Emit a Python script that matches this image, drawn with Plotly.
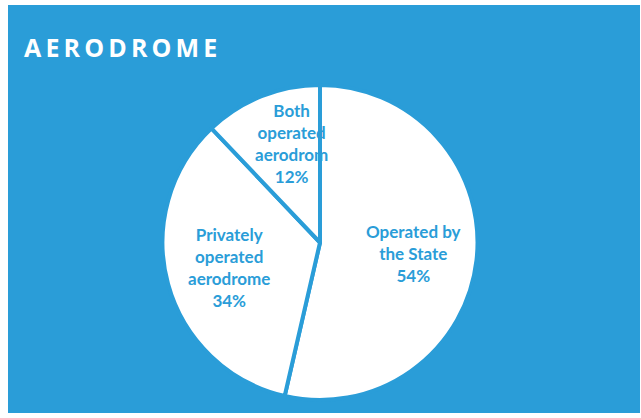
import math
import plotly.graph_objects as go

labels = ["Operated by the State", "Privately operated aerodrome", "Both operated aerodrom"]
label_lines = ["Operated by<br>the State", "Privately<br>operated<br>aerodrome", "Both<br>operated<br>aerodrom"]
values = [53.6, 34.3, 12.1]
label_radius = [0.6, 0.6, 0.68]
label_xshift = [0, 0, 11]

BLUE = "#2A9DD8"
W, H = 641, 418

# pie geometry (pixels)
cx, cy, R = 320, 242.5, 157.5

fig = go.Figure()
fig.add_trace(go.Pie(
    labels=labels, values=values, sort=False, direction="clockwise", rotation=0,
    marker=dict(colors=["white"] * 3, line=dict(color=BLUE, width=4)),
    textinfo="none", hoverinfo="label+percent", showlegend=False,
    domain=dict(x=[(cx - R) / W, (cx + R) / W], y=[(H - cy - R) / H, (H - cy + R) / H]),
))

total = sum(values)
cum = 0
annotations = []
for lab, v, fr, xs in zip(label_lines, values, label_radius, label_xshift):
    mid = (cum + v / 2) / total * 2 * math.pi
    cum += v
    px = cx + math.sin(mid) * R * fr
    py = cy - math.cos(mid) * R * fr
    annotations.append(dict(
        x=px / W, y=1 - py / H, xref="paper", yref="paper", xshift=xs,
        text=f"<b>{lab}<br>{round(v / total * 100)}%</b>", showarrow=False,
        font=dict(family="Lato", size=17, color=BLUE), align="center",
        xanchor="center", yanchor="middle",
    ))

title = "\u2009".join("AERODROME")
annotations.append(dict(
    x=22 / W, y=1 - 47 / H, xref="paper", yref="paper", text=f"<b>{title}</b>",
    showarrow=False, xanchor="left", yanchor="middle",
    font=dict(family="Open Sans", size=25, color="white"),
))

fig.update_layout(
    width=W, height=H, margin=dict(l=0, r=0, t=0, b=0),
    paper_bgcolor="white", plot_bgcolor="white",
    shapes=[dict(type="rect", xref="paper", yref="paper", layer="below",
                 x0=8 / W, x1=640 / W, y0=1 - 413 / H, y1=1 - 5 / H,
                 fillcolor=BLUE, line=dict(width=0))],
    annotations=annotations,
)

fig.write_html("out.html")
